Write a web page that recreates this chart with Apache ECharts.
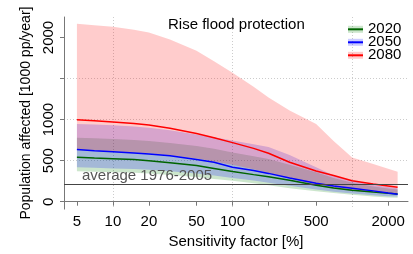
<!DOCTYPE html>
<html><head><meta charset="utf-8">
<script src="https://cdn.jsdelivr.net/npm/echarts@6/dist/echarts.min.js"></script>
<style>html,body{margin:0;padding:0;background:#fff}#c{width:413px;height:254px}</style>
</head><body><div id="c"></div>
<script>
const sens = [5, 7, 10, 15, 20, 30, 50, 70, 100, 150, 200, 300, 500, 700, 1000, 1500, 2000, 2400];
const years = ['2020', '2050', '2080'];
const med2020 = [541, 532, 524, 515, 500, 475, 440, 405, 368, 330, 305, 262, 200, 168, 140, 118, 103, 95];
const low2020 = [370, 365, 360, 353, 345, 325, 300, 278, 255, 225, 200, 165, 128, 105, 85, 65, 52, 47];
const up2020  = [779, 772, 765, 752, 740, 715, 680, 645, 600, 555, 520, 450, 360, 290, 230, 185, 160, 150];
const med2050 = [635, 622, 610, 594, 580, 560, 515, 480, 420, 380, 345, 290, 225, 190, 164, 132, 105, 90];
const low2050 = [420, 413, 405, 398, 390, 372, 345, 320, 290, 258, 232, 195, 150, 122, 100, 80, 68, 62];
const up2050  = [947, 940, 930, 915, 900, 870, 820, 785, 745, 700, 665, 570, 420, 320, 255, 205, 178, 165];
const med2080 = [998, 985, 970, 952, 935, 895, 830, 780, 720, 650, 590, 480, 375, 320, 255, 215, 192, 177];
const low2080 = [630, 625, 615, 600, 590, 565, 525, 490, 450, 395, 350, 285, 205, 165, 135, 115, 105, 100];
const up2080  = [2167, 2150, 2132, 2095, 2062, 1975, 1840, 1710, 1570, 1400, 1270, 1110, 947, 740, 540, 460, 400, 365];
const averageValue = 217;
const xLabelVals = [5, 10, 20, 50, 100, 500, 2000];
const xTickVals = [5, 10, 20, 50, 100, 200, 500, 2000];
const yLabelVals = [0, 500, 1000, 2000];
const yTickVals = [0, 500, 1000, 1500, 2000];

const bandColors = ['rgb(0,128,0)', 'rgb(0,0,255)', 'rgb(255,0,0)'];
const bandLegend = ['rgba(0,128,0,0.2)', 'rgba(0,0,255,0.2)', 'rgba(255,0,0,0.2)'];
const lineColors = ['#006400', '#0000ff', '#ff0000'];
const meds = [med2020, med2050, med2080];
const lows = [low2020, low2050, low2080];
const ups = [up2020, up2050, up2080];

const pair = arr => sens.map((x, i) => [x, arr[i]]);
const series = [];
years.forEach((y, k) => {
  const lo = lows[k], up = ups[k];
  series.push({
    type: 'custom', name: 'b' + y, silent: true, z: 2,
    itemStyle: {color: bandLegend[k]},
    data: sens.map((x, i) => [x, lo[i], up[i]]),
    encode: {x: 0, y: [1, 2]},
    renderItem: function (params, api) {
      if (params.dataIndex !== 0) return null;
      const pts = [];
      for (let i = 0; i < sens.length; i++) pts.push(api.coord([sens[i], up[i]]));
      for (let i = sens.length - 1; i >= 0; i--) pts.push(api.coord([sens[i], lo[i]]));
      return {type: 'polygon', shape: {points: pts},
              style: {fill: bandColors[k], opacity: 0.2}};
    }
  });
});
years.forEach((y, k) => {
  series.push({
    type: 'line', name: y, data: pair(meds[k]), symbol: 'none',
    itemStyle: {color: lineColors[k]},
    lineStyle: {color: lineColors[k], width: 1.5}, z: 3
  });
});
series[series.length - 1].markLine = {
  silent: true, symbol: 'none',
  lineStyle: {color: '#444', width: 1, type: 'solid'},
  label: {position: 'insideStartTop', formatter: 'average 1976-2005', color: '#555',
          fontSize: 15, fontFamily: 'Liberation Sans', distance: [18, 1]},
  data: [{yAxis: averageValue}]
};

const legendBase = {
  orient: 'vertical', left: 343, top: 16.8, itemWidth: 15, itemGap: -2,
  selectedMode: false, icon: 'rect',
  textStyle: {fontSize: 15, lineHeight: 13, fontFamily: 'Liberation Sans', color: '#000'}
};
const chart = echarts.init(document.getElementById('c'));
chart.setOption({
  animation: false,
  title: {text: 'Rise flood protection', left: 163, top: 12,
          textStyle: {fontSize: 15, fontWeight: 'normal', color: '#000', fontFamily: 'Liberation Sans'}},
  legend: [
    Object.assign({}, legendBase, {
      data: years.map((y, k) => ({name: 'b' + y, itemStyle: {color: bandLegend[k], borderWidth: 0}})),
      itemHeight: 7,
      formatter: n => n.slice(1),
      textStyle: Object.assign({}, legendBase.textStyle, {color: 'rgba(0,0,0,0)'}), z: 4}),
    Object.assign({}, legendBase, {data: years, itemHeight: 2,
      itemStyle: {borderWidth: 0}, z: 5})
  ],
  grid: {left: 64, right: 5, top: 17, bottom: 37, containLabel: false},
  xAxis: [{
    type: 'log', min: 3.9, max: 2930,
    name: 'Sensitivity factor [%]', nameLocation: 'middle', nameGap: 22,
    nameTextStyle: {fontSize: 15, color: '#000', fontFamily: 'Liberation Sans'},
    axisLine: {lineStyle: {color: '#777'}},
    axisTick: {customValues: xTickVals, length: 4, lineStyle: {color: '#777'}},
    axisLabel: {customValues: xLabelVals, fontSize: 15, color: '#000', margin: 5,
                fontFamily: 'Liberation Sans', formatter: v => String(v)},
    splitLine: {show: false}
  }, {
    type: 'log', min: 3.9, max: 2930, position: 'bottom',
    axisLine: {show: false}, axisTick: {show: false}, axisLabel: {show: false},
    splitLine: {show: true, showMinLine: false, showMaxLine: false,
                lineStyle: {color: '#ccc', type: [1, 2], width: 1}}
  }],
  yAxis: {
    type: 'value', min: -90, max: 2250,
    name: 'Population affected [1000 pp/year]', nameLocation: 'middle', nameGap: 29,
    nameRotate: 90,
    nameTextStyle: {fontSize: 14, color: '#000', fontFamily: 'Liberation Sans'},
    axisLine: {show: true, lineStyle: {color: '#777'}},
    axisTick: {show: true, customValues: yTickVals, length: 4, lineStyle: {color: '#777'}},
    axisLabel: {customValues: yLabelVals, rotate: 90, fontSize: 15, color: '#000', margin: 8,
                fontFamily: 'Liberation Sans', formatter: v => String(v)},
    splitLine: {show: true, showMinLine: false, showMaxLine: false,
                lineStyle: {color: '#ccc', type: [1, 2], width: 1}}
  },
  series: series
});
</script></body></html>
